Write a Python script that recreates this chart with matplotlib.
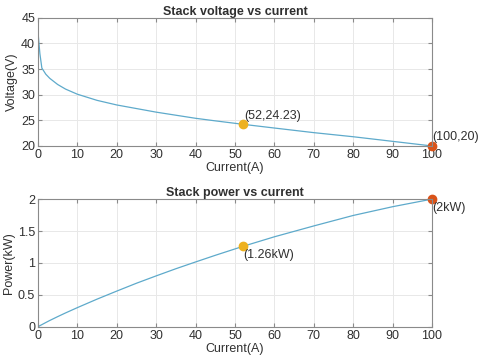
import matplotlib.pyplot as plt

plt.rcParams['font.family'] = ['Liberation Sans', 'DejaVu Sans']

# values
current = [0, 0.5, 1, 2, 3, 5, 7, 10, 15, 20, 25, 30, 35, 40, 45, 52, 60, 70, 80, 90, 100]
voltage = [42.4, 38.0, 35.2, 34.0, 33.2, 32.0, 31.1, 30.1, 28.9, 28.0, 27.3, 26.6,
           26.0, 25.4, 24.9, 24.23, 23.5, 22.6, 21.8, 20.9, 20.0]
power = [0, 0.019, 0.035, 0.068, 0.1, 0.16, 0.218, 0.301, 0.434, 0.56, 0.683, 0.798,
         0.91, 1.016, 1.12, 1.26, 1.41, 1.58, 1.744, 1.881, 2.0]

mid_pt = (52, 24.23, 1.26)
end_pt = (100, 20, 2.0)

line_c = '#5eaacb'
yel = '#EDB120'
org = '#D95319'
txt = '#303030'
axc = '#8a8a8a'

fig = plt.figure(figsize=(4.8, 3.64), dpi=100)
ax1 = fig.add_axes([0.079, 0.599, 0.821, 0.352])
ax2 = fig.add_axes([0.079, 0.102, 0.821, 0.351])


def style(ax):
    ax.grid(True, color='#e8e8e8', linewidth=0.7)
    ax.set_axisbelow(True)
    ax.tick_params(direction='in', top=True, right=True, labelsize=9,
                   colors=axc, labelcolor=txt, length=3, pad=2)
    for s in ax.spines.values():
        s.set_color(axc)
        s.set_linewidth(0.8)
    ax.set_xlim(0, 100)
    ax.set_xticks(range(0, 101, 10))


ax1.plot(current, voltage, color=line_c, linewidth=0.9)
ax1.plot(mid_pt[0], mid_pt[1], 'o', color=yel, markersize=6)
ax1.plot(end_pt[0], end_pt[1], 'o', color=org, markersize=6, clip_on=False)
ax1.annotate('(%d,%.2f)' % (mid_pt[0], mid_pt[1]), (mid_pt[0], mid_pt[1]),
             xytext=(1, 2), textcoords='offset points', fontsize=9, color=txt,
             va='bottom', ha='left')
ax1.annotate('(%d,%d)' % (end_pt[0], end_pt[1]), (end_pt[0], end_pt[1]),
             xytext=(0, 2), textcoords='offset points', fontsize=9, color=txt,
             va='bottom', ha='left', annotation_clip=False)
ax1.set_ylim(20, 45)
ax1.set_yticks(range(20, 46, 5))
style(ax1)
ax1.set_title('Stack voltage vs current', fontsize=9, fontweight='bold', color=txt, pad=2)
ax1.set_xlabel('Current(A)', fontsize=9, color=txt, labelpad=1)
ax1.set_ylabel('Voltage(V)', fontsize=9, color=txt, labelpad=2)

ax2.plot(current, power, color=line_c, linewidth=0.9)
ax2.plot(mid_pt[0], mid_pt[2], 'o', color=yel, markersize=6)
ax2.plot(end_pt[0], end_pt[2], 'o', color=org, markersize=6, clip_on=False)
ax2.annotate('(%.2fkW)' % mid_pt[2], (mid_pt[0], mid_pt[2]),
             xytext=(0, -2), textcoords='offset points', fontsize=9, color=txt,
             va='top', ha='left')
ax2.annotate('(%gkW)' % end_pt[2], (end_pt[0], end_pt[2]),
             xytext=(0, -2), textcoords='offset points', fontsize=9, color=txt,
             va='top', ha='left', annotation_clip=False)
ax2.set_ylim(0, 2)
ax2.set_yticks([0, 0.5, 1, 1.5, 2])
ax2.set_yticklabels(['0', '0.5', '1', '1.5', '2'])
style(ax2)
ax2.set_title('Stack power vs current', fontsize=9, fontweight='bold', color=txt, pad=2)
ax2.set_xlabel('Current(A)', fontsize=9, color=txt, labelpad=1)
ax2.set_ylabel('Power(kW)', fontsize=9, color=txt, labelpad=2)

fig.savefig('out.png', dpi=100)
